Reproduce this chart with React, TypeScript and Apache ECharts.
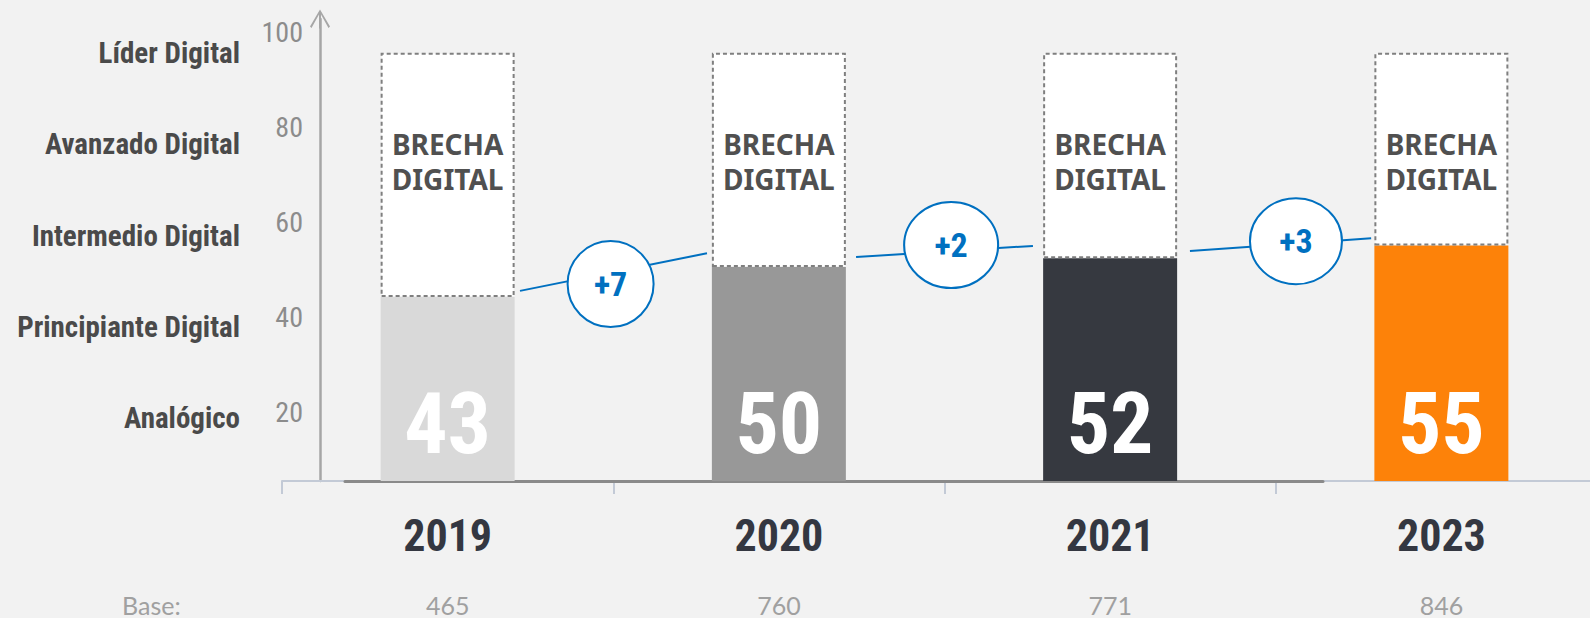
import React, { useEffect, useRef } from "react";
import * as echarts from "echarts";

// ---- data ----
const years = ["2019", "2020", "2021", "2023"];
const scores = [43, 50, 52, 55];
const bases = ["465", "760", "771", "846"];
const maxScore = 100;
const levelNames = ["Analógico", "Principiante Digital", "Intermedio Digital", "Avanzado Digital", "Líder Digital"];
const deltas = ["+7", "+2", "+3"];
// bubble anchors in (category index, score) units
const bubbleX = [0.492, 1.52, 2.561];
const bubbleY = [46.0, 55.1, 56.0];
// connector segments (category index, score)
const connectors = [
  [[0.2185, 44.4], [0.783, 53.2]],
  [[1.233, 52.3], [1.767, 54.9]],
  [[2.241, 53.7], [2.788, 56.7]],
];

// ---- styles ----
const barColors = ["#d9d9d9", "#989898", "#363940", "#fd8209"];
const bubbleSizes = [[86, 86], [94, 86], [92, 86]];
const NARROW = '"Liberation Sans Narrow", "Arial Narrow", "Roboto Condensed", "DejaVu Sans Condensed", sans-serif';
const BLUE = "#0070c0";
const ELLIPSE = "path://M0,50 A50,50 0 1,1 100,50 A50,50 0 1,1 0,50 Z";
const ARROW = "path://M10,0 L20,17 L18.5,18.5 L11,5 L11,19 L9,19 L9,5 L1.5,18.5 L0,17 Z";

const GRID_TOP = 10;
const GRID_H = 471;
const GRID_LEFT = 282;
const GRID_W = 1325;

export default function App() {
  const ref = useRef<HTMLDivElement>(null);
  useEffect(() => {
    if (!ref.current) return;
    const chart = echarts.init(ref.current, undefined, { renderer: "svg" });
    const hiddenX = (gridIndex: number) => ({ type: "value", gridIndex, show: false });
    const g = (o: any) => ({ ...o, outerBoundsMode: "none", containLabel: false });
    const option: any = {
      animation: false,
      backgroundColor: "#f2f2f2",
      grid: [
        g({ left: GRID_LEFT, top: GRID_TOP, width: GRID_W, height: GRID_H }),
        g({ left: GRID_LEFT, top: GRID_TOP, width: GRID_W, height: GRID_H }),
        g({ left: 345, top: GRID_TOP, width: 978, height: GRID_H }),
        g({ left: 320, top: 19, width: 10, height: 462 }),
        g({ left: 320, top: 32, width: 10, height: 475 }),
        g({ left: 250, top: 7.5, width: 10, height: 456 }),
      ],
      xAxis: [
        {
          type: "category",
          gridIndex: 0,
          data: years,
          axisLine: { show: true, lineStyle: { color: "#c3cad6", width: 2 } },
          axisTick: { show: true, length: 13, lineStyle: { color: "#c3cad6", width: 2 } },
          axisLabel: { margin: 33, fontFamily: NARROW, fontWeight: "bold", fontSize: 44, lineHeight: 44, color: "#343741" },
          z: 1,
        },
        {
          type: "category",
          gridIndex: 0,
          position: "bottom",
          offset: 103,
          data: bases,
          axisLine: { show: false },
          axisTick: { show: false },
          axisLabel: { margin: 8, fontFamily: "Lato, sans-serif", fontSize: 25, lineHeight: 25, color: "#a0a0a0" },
        },
        { type: "value", gridIndex: 1, min: -0.5, max: 3.5, show: false },
        {
          type: "value",
          gridIndex: 2,
          axisLine: { show: true, onZero: false, lineStyle: { color: "#8a8a8a", width: 3 } },
          axisTick: { show: false },
          axisLabel: { show: false },
          splitLine: { show: false },
          z: 2,
        },
        hiddenX(3),
        hiddenX(4),
        hiddenX(5),
      ],
      yAxis: [
        { type: "value", gridIndex: 0, min: 0, max: 110, show: false },
        { type: "value", gridIndex: 1, min: 0, max: 110, show: false },
        { type: "value", gridIndex: 2, min: 0, max: 110, show: false },
        {
          type: "value",
          gridIndex: 3,
          min: 0,
          max: 100,
          axisLine: {
            show: true,
            symbol: ["none", ARROW],
            symbolSize: [21, 19],
            lineStyle: { color: "#a6a6a6", width: 2.5 },
          },
          axisTick: { show: false },
          axisLabel: { show: false },
          splitLine: { show: false },
        },
        {
          type: "value",
          gridIndex: 4,
          min: 0,
          max: 100,
          interval: 20,
          axisLine: { show: false },
          axisTick: { show: false },
          splitLine: { show: false },
          axisLabel: {
            showMinLabel: false,
            margin: 17,
            fontFamily: NARROW,
            fontSize: 28,
            color: "#8c8c8c",
          },
        },
        {
          type: "category",
          gridIndex: 5,
          data: levelNames,
          axisLine: { show: false },
          axisTick: { show: false },
          axisLabel: {
            margin: 10,
            fontFamily: NARROW,
            fontWeight: "bold",
            fontSize: 29,
            color: "#4a4a4a",
          },
        },
      ],
      graphic: [
        {
          type: "text",
          left: 122,
          top: 592,
          style: { text: "Base:", fontFamily: "Lato, sans-serif", fontSize: 25, fill: "#a0a0a0" },
        },
      ],
      series: [
        {
          type: "bar",
          xAxisIndex: 0,
          yAxisIndex: 0,
          stack: "score",
          barWidth: 134,
          z: 3,
          data: scores.map((v, i) => ({ value: v, itemStyle: { color: barColors[i] } })),
          label: {
            show: true,
            position: "insideBottom",
            distance: 15,
            fontFamily: NARROW,
            fontWeight: "bold",
            fontSize: 86,
            lineHeight: 86,
            color: "#ffffff",
          },
        },
        {
          type: "bar",
          xAxisIndex: 0,
          yAxisIndex: 0,
          stack: "score",
          barWidth: 134,
          z: 3,
          data: scores.map((v) => maxScore - v),
          itemStyle: { color: "#ffffff", borderColor: "#7f7f7f", borderType: [4, 3], borderWidth: 2 },
          label: {
            show: true,
            position: "insideTop",
            distance: 74,
            formatter: "BRECHA\nDIGITAL",
            fontFamily: '"Noto Sans", sans-serif',
            fontWeight: "bold",
            fontSize: 28,
            lineHeight: 35,
            color: "#505050",
          },
        },
        ...connectors.map((seg) => ({
          type: "line",
          xAxisIndex: 2,
          yAxisIndex: 1,
          data: seg,
          symbol: "none",
          lineStyle: { color: BLUE, width: 2 },
          z: 4,
        })),
        {
          type: "scatter",
          xAxisIndex: 2,
          yAxisIndex: 1,
          z: 5,
          data: bubbleX.map((x, i) => ({
            value: [x, bubbleY[i]],
            symbolSize: bubbleSizes[i],
            label: { formatter: deltas[i] },
          })),
          symbol: ELLIPSE,
          itemStyle: { color: "#ffffff", borderColor: BLUE, borderWidth: 2, opacity: 1 },
          label: {
            show: true,
            position: "inside",
            fontFamily: NARROW,
            fontWeight: "bold",
            fontSize: 34,
            color: BLUE,
          },
        },
      ],
    };
    chart.setOption(option);
    return () => chart.dispose();
  }, []);
  return <div ref={ref} style={{ position: "absolute", left: 0, top: 0, width: 1590, height: 618 }} />;
}
